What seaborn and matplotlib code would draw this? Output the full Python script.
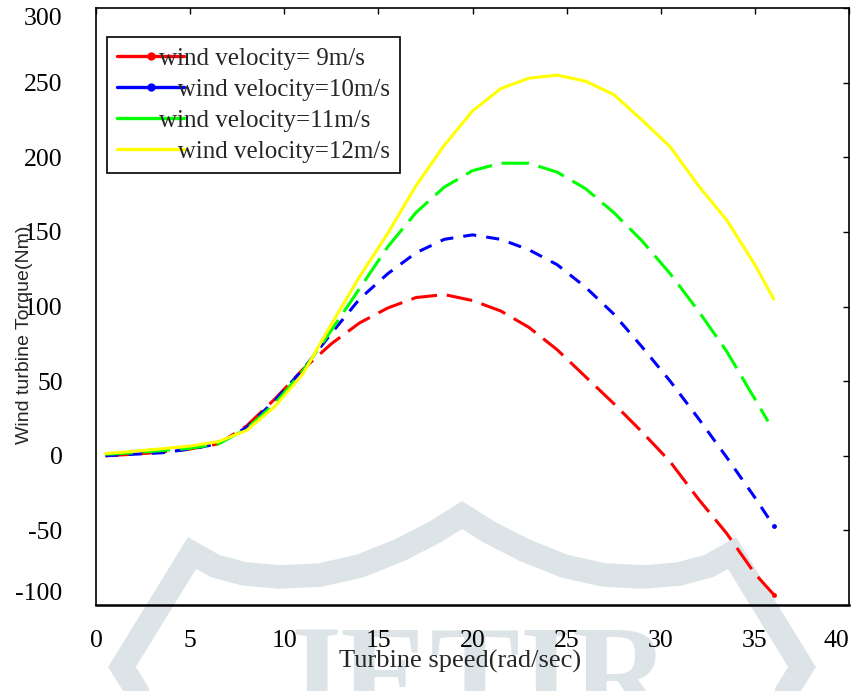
import numpy as np
import pandas as pd
import matplotlib
matplotlib.use("Agg")
import matplotlib.pyplot as plt
import seaborn as sns
from matplotlib.lines import Line2D

# ---------------- data ----------------
speed_9 = [0.5, 2, 3.5, 5, 6.5, 8, 9.5, 11, 12.5, 14, 15.5, 17, 18.5, 20, 21.5, 23,
           24.5, 26, 27.5, 29, 30.5, 32, 33.5, 35, 36]
torque_9 = [0, 1, 2.5, 4.5, 8, 20, 38, 58, 75, 89, 99, 106, 108, 104, 97, 86,
            71, 53, 35, 16, -4, -29, -52, -79, -93]

speed_10 = [0.5, 2, 3.5, 5, 6.5, 8, 9.5, 11, 12.5, 14, 15.5, 17, 18.5, 20, 21.5, 23,
            24.5, 26, 27.5, 29, 30.5, 32, 33.5, 35, 36]
torque_10 = [0, 1, 2, 4.5, 8, 19, 37, 58, 82, 105, 122, 136, 145, 148, 145, 138,
             128, 113, 95, 73, 50, 25, -1, -28, -47]

speed_11 = [0.5, 2, 3.5, 5, 6.5, 8, 9.5, 11, 12.5, 14, 15.5, 17, 18.5, 20, 21.5, 23,
            24.5, 26, 27.5, 29, 30.5, 32, 33.5, 35, 35.7]
torque_11 = [1, 2, 3.5, 5, 8, 18, 35, 57, 84, 112, 140, 163, 180, 191, 196, 196,
             190, 179, 163, 144, 122, 97, 70, 38, 23]

speed_12 = [0.5, 2, 3.5, 5, 6.5, 8, 9.5, 11, 12.5, 14, 15.5, 17, 18.5, 20, 21.5, 23,
            24.5, 26, 27.5, 29, 30.5, 32, 33.5, 35, 36]
torque_12 = [1.5, 3, 4.7, 6.5, 9.5, 17, 33, 55, 88, 120, 149, 181, 208, 231, 246, 253,
             255, 251, 242, 225, 207, 181, 158, 128, 105]

series_names = ["9", "10", "11", "12"]
legend_labels = ["wind velocity= 9m/s", "   wind velocity=10m/s",
                 "wind velocity=11m/s", "   wind velocity=12m/s"]
x_ticks = [0, 5, 10, 15, 20, 25, 30, 35, 40]
y_ticks = [-100, -50, 0, 50, 100, 150, 200, 250, 300]

frames = []
for name, xs, ys in zip(series_names,
                        [speed_9, speed_10, speed_11, speed_12],
                        [torque_9, torque_10, torque_11, torque_12]):
    frames.append(pd.DataFrame({"speed": xs, "torque": ys, "series": name}))
df = pd.concat(frames, ignore_index=True)

palette = {"9": "#ff0000", "10": "#0000ff", "11": "#00ff00", "12": "#ffff00"}
dashes = {"9": (8.5, 3.2), "10": (4.3, 3.3), "11": (9.0, 3.2), "12": ""}

# ---------------- style ----------------
sns.set_style("white")
plt.rcParams["font.family"] = ["Liberation Serif", "DejaVu Serif"]
plt.rcParams["axes.linewidth"] = 1.2

fig = plt.figure(figsize=(8.51, 6.91), dpi=100)
ax = fig.add_axes([96 / 851, (691 - 605) / 691, 753 / 851, 597 / 691])
ax.set_facecolor("none")

# ---------------- watermark (light grey, behind the plot) ----------------
wm = "#dde4e7"
px = [122, 192, 215, 245, 280, 320, 360, 400, 435, 462, 489, 524, 564, 604, 644,
      679, 709, 732, 802]
py = [667, 553, 566, 574, 577, 575, 566, 550, 532, 515, 532, 550, 566, 575, 577,
      574, 566, 553, 667]
fig.add_artist(Line2D([p / 851 for p in [150] + px + [774]],
                      [1 - p / 691 for p in [712] + py + [712]],
                      transform=fig.transFigure, color=wm, lw=17,
                      solid_joinstyle="miter", zorder=-2))
fig.text(471 / 851, (691 - 719) / 691, "JETIR", ha="center", va="baseline",
         fontsize=97, fontweight="bold", color=wm, zorder=-2,
         family=["Liberation Serif"])

# ---------------- curves ----------------
sns.lineplot(data=df, x="speed", y="torque", hue="series", style="series",
             palette=palette, dashes=dashes, lw=2.2, estimator=None, sort=False,
             legend=False, ax=ax)
for name, xs, ys in [("9", speed_9, torque_9), ("10", speed_10, torque_10)]:
    ax.plot(xs[-1:], ys[-1:], "o", color=palette[name], ms=3.5, mec="none")

ax.set_xlim(0, 40)
ax.set_ylim(-100, 300)
ax.set_xticks(x_ticks)
ax.set_yticks(y_ticks)
ax.set_xticklabels([str(v) for v in x_ticks])
ax.set_yticklabels([str(v) for v in y_ticks])

ax.tick_params(axis="both", which="major", direction="in", length=4, width=1,
               top=True, right=True, colors="black", labelsize=18.5)
ax.tick_params(axis="x", pad=18)
ax.tick_params(axis="y", pad=24)
for s in ax.spines.values():
    s.set_visible(True)
    s.set_color("black")
    s.set_linewidth(1.2)
ax.spines["bottom"].set_linewidth(1.8)

xl = ax.get_xticklabels()
xl[-1].set_ha("right")
yl = ax.get_yticklabels()
yl[-1].set_va("top")
yl[0].set_va("bottom")

ax.set_xlabel("Turbine speed(rad/sec)", fontsize=19, family=["Liberation Serif"])
ax.xaxis.set_label_coords(0.483, -0.075)
ax.set_ylabel("Wind turbine Torque(Nm)", fontsize=14, family=["Liberation Sans"])
ax.yaxis.set_label_coords(-0.084, 0.452)

# ---------------- legend ----------------
handles = [
    Line2D([], [], color=palette["9"], lw=2.4, marker="o", ms=5),
    Line2D([], [], color=palette["10"], lw=2.4, marker="o", ms=5),
    Line2D([], [], color=palette["11"], lw=2.4),
    Line2D([], [], color=palette["12"], lw=2.4),
]
leg = ax.legend(handles, legend_labels, loc="upper left",
                bbox_to_anchor=(0.0146, 0.951), borderaxespad=0,
                prop={"family": "Liberation Serif", "size": 18},
                frameon=True, fancybox=False, framealpha=1, edgecolor="black",
                handlelength=2.7, handletextpad=-1.0, labelspacing=0.34,
                borderpad=0.4, numpoints=1)
leg.get_frame().set_linewidth(1.2)

fig.savefig("out.png", dpi=100)
